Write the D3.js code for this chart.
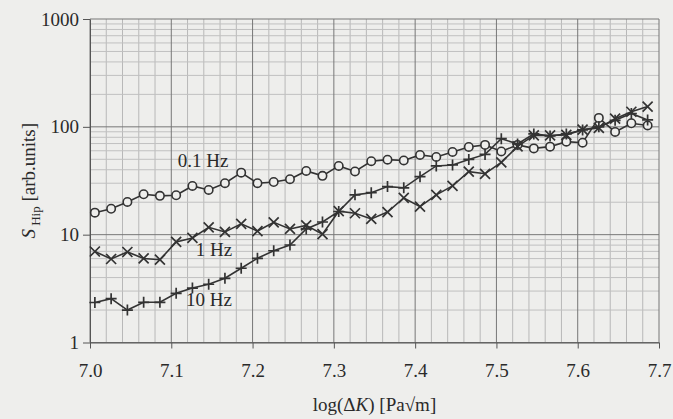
<!DOCTYPE html>
<html>
<head>
<meta charset="utf-8">
<script src="https://cdn.jsdelivr.net/npm/d3@7"></script>
<style>
  html, body { margin: 0; padding: 0; background: #eeeeec; }
  svg { display: block; }
  text { font-family: "Liberation Serif", "DejaVu Serif", serif; fill: #2a2a2a; }
</style>
</head>
<body>
<div id="chart"></div>
<script>
// log(dK) positions of the measured points
let dK = [7.006, 7.026, 7.046, 7.066, 7.086, 7.106, 7.126, 7.146, 7.166, 7.186,
    7.206, 7.226, 7.246, 7.266, 7.286, 7.306, 7.326, 7.346, 7.366, 7.386,
    7.406, 7.426, 7.446, 7.466, 7.486, 7.506, 7.526, 7.546, 7.566, 7.586,
    7.606, 7.626, 7.646, 7.666, 7.686];

let hz01 = [16.0, 17.4, 20.1, 23.7, 22.9, 23.2, 28.3, 26.0, 30.0, 37.6,
    30.0, 30.8, 32.7, 39.0, 35.1, 43.4, 38.6, 48.0, 49.6, 48.8,
    54.9, 52.6, 58.5, 65.1, 68.0, 59.1, 68.0, 63.1, 65.5, 72.9,
    71.3, 121, 89.7, 108, 103];

let hz1 = [6.98, 5.95, 6.91, 6.02, 5.86, 8.56, 9.32, 11.7, 10.6, 12.6,
    10.8, 13.0, 11.3, 12.2, 10.1, 16.5, 15.8, 14.0, 16.2, 21.9,
    18.2, 23.4, 28.3, 38.4, 36.7, 46.8, 65.8, 83.2, 83.2, 84.1,
    94.2, 97.7, 119, 138, 154];

let hz10 = [2.35, 2.55, 2.00, 2.36, 2.36, 2.86, 3.20, 3.47, 3.94, 4.88,
    6.04, 7.09, 8.02, 11.3, 13.1, 16.4, 23.4, 24.5, 27.9, 27.2,
    34.5, 43.4, 44.3, 49.9, 55.5, 77.6, 69.4, 85.9, 82.4, 85.9,
    93.6, 100, 115, 133, 116];

let xTicks = [7.0, 7.1, 7.2, 7.3, 7.4, 7.5, 7.6, 7.7];
let yTicks = [1, 10, 100, 1000];

// series labels: text and where they sit (data coords)
let seriesLabels = [
    { text: "0.1 Hz", x: 7.108, y: 42 },
    { text: "1 Hz", x: 7.130, y: 6.3 },
    { text: "10 Hz", x: 7.118, y: 2.2 }
];

const W = 673, H = 419;
const margin = { top: 19, right: 14, bottom: 76.5, left: 90 };
const ink = "#333333";
const serif = "'Liberation Serif', 'DejaVu Serif', serif";

const svg = d3.select("#chart").append("svg")
    .attr("width", W)
    .attr("height", H);

svg.append("rect").attr("width", W).attr("height", H).attr("fill", "#eeeeec");

const x = d3.scaleLinear()
    .domain([7.0, 7.7])
    .range([margin.left, W - margin.right]);

const y = d3.scaleLog()
    .domain([1, 1000])
    .range([H - margin.bottom, margin.top]);

// minor grid
let xMinor = d3.range(0, 36).map(i => 7.0 + i * 0.02).filter(v => Math.abs(v * 10 - Math.round(v * 10)) > 1e-6);
let yMinor = [];
[1, 10, 100].forEach(dec => { for (let k = 2; k < 10; k++) yMinor.push(dec * k); });

const grid = svg.append("g").attr("class", "grid");
grid.selectAll("line.xm").data(xMinor).join("line")
    .attr("class", "xm")
    .attr("x1", d => x(d)).attr("x2", d => x(d))
    .attr("y1", y(1)).attr("y2", y(1000))
    .attr("stroke", "#b8b8b8").attr("stroke-width", 1);
grid.selectAll("line.ym").data(yMinor).join("line")
    .attr("class", "ym")
    .attr("x1", x(7.0)).attr("x2", x(7.7))
    .attr("y1", d => y(d)).attr("y2", d => y(d))
    .attr("stroke", "#c0c0c0").attr("stroke-width", 1);
grid.selectAll("line.xM").data(xTicks).join("line")
    .attr("class", "xM")
    .attr("x1", d => x(d)).attr("x2", d => x(d))
    .attr("y1", y(1)).attr("y2", y(1000))
    .attr("stroke", "#777").attr("stroke-width", 1);
grid.selectAll("line.yM").data(yTicks).join("line")
    .attr("class", "yM")
    .attr("x1", x(7.0)).attr("x2", x(7.7))
    .attr("y1", d => y(d)).attr("y2", d => y(d))
    .attr("stroke", "#777").attr("stroke-width", 1);

// axes
const xAxis = svg.append("g")
    .attr("transform", `translate(0,${y(1)})`)
    .call(d3.axisBottom(x).tickValues(xTicks).tickFormat(d3.format(".1f")).tickSize(6).tickPadding(15).tickSizeOuter(0));
const yAxis = svg.append("g")
    .attr("transform", `translate(${x(7.0)},0)`)
    .call(d3.axisLeft(y).tickValues(yTicks).tickFormat(d3.format("d")).tickSize(7).tickPadding(4).tickSizeOuter(0));

[xAxis, yAxis].forEach(a => {
    a.attr("font-family", serif).attr("font-size", 19);
    a.select(".domain").attr("stroke", "#555");
    a.selectAll(".tick line").attr("stroke", "#555");
    a.selectAll(".tick text")
        .style("font-family", serif)
        .style("font-size", "19px")
        .attr("fill", "#2a2a2a");
});

// series
const series = [
    { name: "0.1 Hz", values: hz01, marker: "circle" },
    { name: "1 Hz", values: hz1, marker: "times" },
    { name: "10 Hz", values: hz10, marker: "plus" }
];

const timesSym = {
    draw(ctx, size) {
        const r = Math.sqrt(size) / 2;
        ctx.moveTo(-r, -r); ctx.lineTo(r, r);
        ctx.moveTo(-r, r); ctx.lineTo(r, -r);
    }
};
const plusSym = {
    draw(ctx, size) {
        const r = Math.sqrt(size) / 2;
        ctx.moveTo(-r, 0); ctx.lineTo(r, 0);
        ctx.moveTo(0, -r); ctx.lineTo(0, r);
    }
};

const line = d3.line().x(d => x(d[0])).y(d => y(d[1]));

series.forEach(s => {
    let pts = dK.map((k, i) => [k, s.values[i]]);
    let g = svg.append("g").attr("class", "series");
    g.append("path")
        .datum(pts)
        .attr("d", line)
        .attr("fill", "none")
        .attr("stroke", ink)
        .attr("stroke-width", 1.6);
    if (s.marker === "circle") {
        g.selectAll("circle").data(pts).join("circle")
            .attr("cx", d => x(d[0]))
            .attr("cy", d => y(d[1]))
            .attr("r", 4.2)
            .attr("fill", "#eeeeec")
            .attr("stroke", ink)
            .attr("stroke-width", 1.6);
    } else {
        let sym = d3.symbol().type(s.marker === "times" ? timesSym : plusSym).size(s.marker === "times" ? 100 : 121);
        g.selectAll("path.m").data(pts).join("path")
            .attr("class", "m")
            .attr("transform", d => `translate(${x(d[0])},${y(d[1])})`)
            .attr("d", sym)
            .attr("fill", "none")
            .attr("stroke", ink)
            .attr("stroke-width", 1.7);
    }
});

// series labels
svg.selectAll("text.slabel").data(seriesLabels).join("text")
    .attr("class", "slabel")
    .attr("x", d => x(d.x))
    .attr("y", d => y(d.y))
    .attr("font-size", 19)
    .text(d => d.text);

// axis titles
const xt = svg.append("text")
    .attr("x", (x(7.0) + x(7.7)) / 2)
    .attr("y", 411)
    .attr("text-anchor", "middle")
    .attr("font-size", 19);
xt.append("tspan").text("log(Δ");
xt.append("tspan").attr("font-style", "italic").text("K");
xt.append("tspan").text(") [Pa√m]");

const yt = svg.append("text")
    .attr("transform", `translate(35,${(y(1) + y(1000)) / 2}) rotate(-90)`)
    .attr("text-anchor", "middle")
    .attr("font-size", 19);
yt.append("tspan").attr("font-style", "italic").text("S");
yt.append("tspan").attr("font-size", 13).attr("dy", 5).text(" Hip");
yt.append("tspan").attr("dy", -5).text(" [arb.units]");
</script>
</body>
</html>
